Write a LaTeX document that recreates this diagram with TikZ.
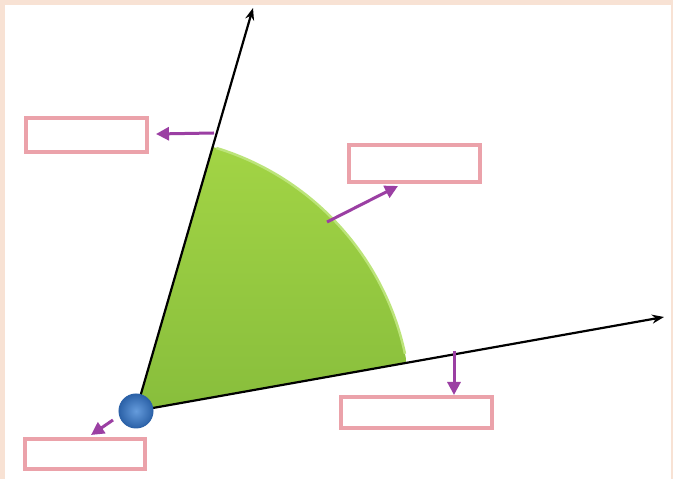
\documentclass[tikz,border=0pt]{standalone}
\usetikzlibrary{arrows.meta,calc,shadings}
\definecolor{peach}{HTML}{F8E2D4}
\definecolor{gtop}{HTML}{A2D445}
\definecolor{gbot}{HTML}{88BE3C}
\definecolor{gedge}{HTML}{BCE47A}
\definecolor{boxpink}{HTML}{EBA2AA}
\definecolor{arrpurple}{HTML}{9B3FA3}
\definecolor{ballblue}{HTML}{4A8AD6}
\definecolor{balldark}{HTML}{2C62A8}
\tikzset{
  labelbox/.style={draw=boxpink, line width=3.4pt, fill=white, minimum height=#1, inner sep=0pt},
  callout/.style={draw=arrpurple, line width=3pt, -{Triangle[length=13pt,width=13pt]}},
  ray/.style={draw=black, line width=2.2pt, -{Stealth[length=12pt,width=9pt]}}
}
\begin{document}
\begin{tikzpicture}[x=1pt,y=1pt]
\useasboundingbox (0,0) rectangle (673,479);
\fill[peach] (0,0) rectangle (673,479);
\fill[white] (5,0) rectangle (671,474);
% vertex and rays
\coordinate (V) at (136,68);
\coordinate (Tup) at (253,471);
\coordinate (Tlow) at (664,162);
% sector
\shade[top color=gtop, bottom color=gbot]
  (V) -- ++(10.1:275pt) arc[start angle=10.1, end angle=73.8, radius=275pt] -- cycle;
\draw[gedge, line width=2.5pt] ($(V)+(12:275pt)$) arc[start angle=12, end angle=73, radius=275pt];
\draw[ray] (V) -- (Tup);
\draw[ray] (V) -- (Tlow);
% blue ball
\node[circle, minimum size=34pt, inner sep=0pt, draw=balldark, line width=1pt,
      inner color=ballblue!85!white, outer color=balldark] (ball) at (V) {};
% label boxes
\node[labelbox=34pt, minimum width=121pt] (b1) at (86.5,344) {};
\node[labelbox=37pt, minimum width=131pt] (b2) at (414.5,315.5) {};
\node[labelbox=31pt, minimum width=151pt] (b3) at (416.5,66.5) {};
\node[labelbox=30pt, minimum width=120pt] (b4) at (85,25) {};
% callout arrows
\coordinate (s1) at (214,346);
\coordinate (e1) at (156,345);
\coordinate (s2) at (327,257);
\coordinate (e2) at (398,293);
\coordinate (s3) at (454,128);
\coordinate (e3) at (454,84);
\coordinate (s4) at (113,59);
\coordinate (e4) at (91,44);
\draw[callout] (s1) -- (e1);
\draw[callout] (s2) -- (e2);
\draw[callout] (s3) -- (e3);
\draw[callout] (s4) -- (e4);
\end{tikzpicture}
\end{document}
